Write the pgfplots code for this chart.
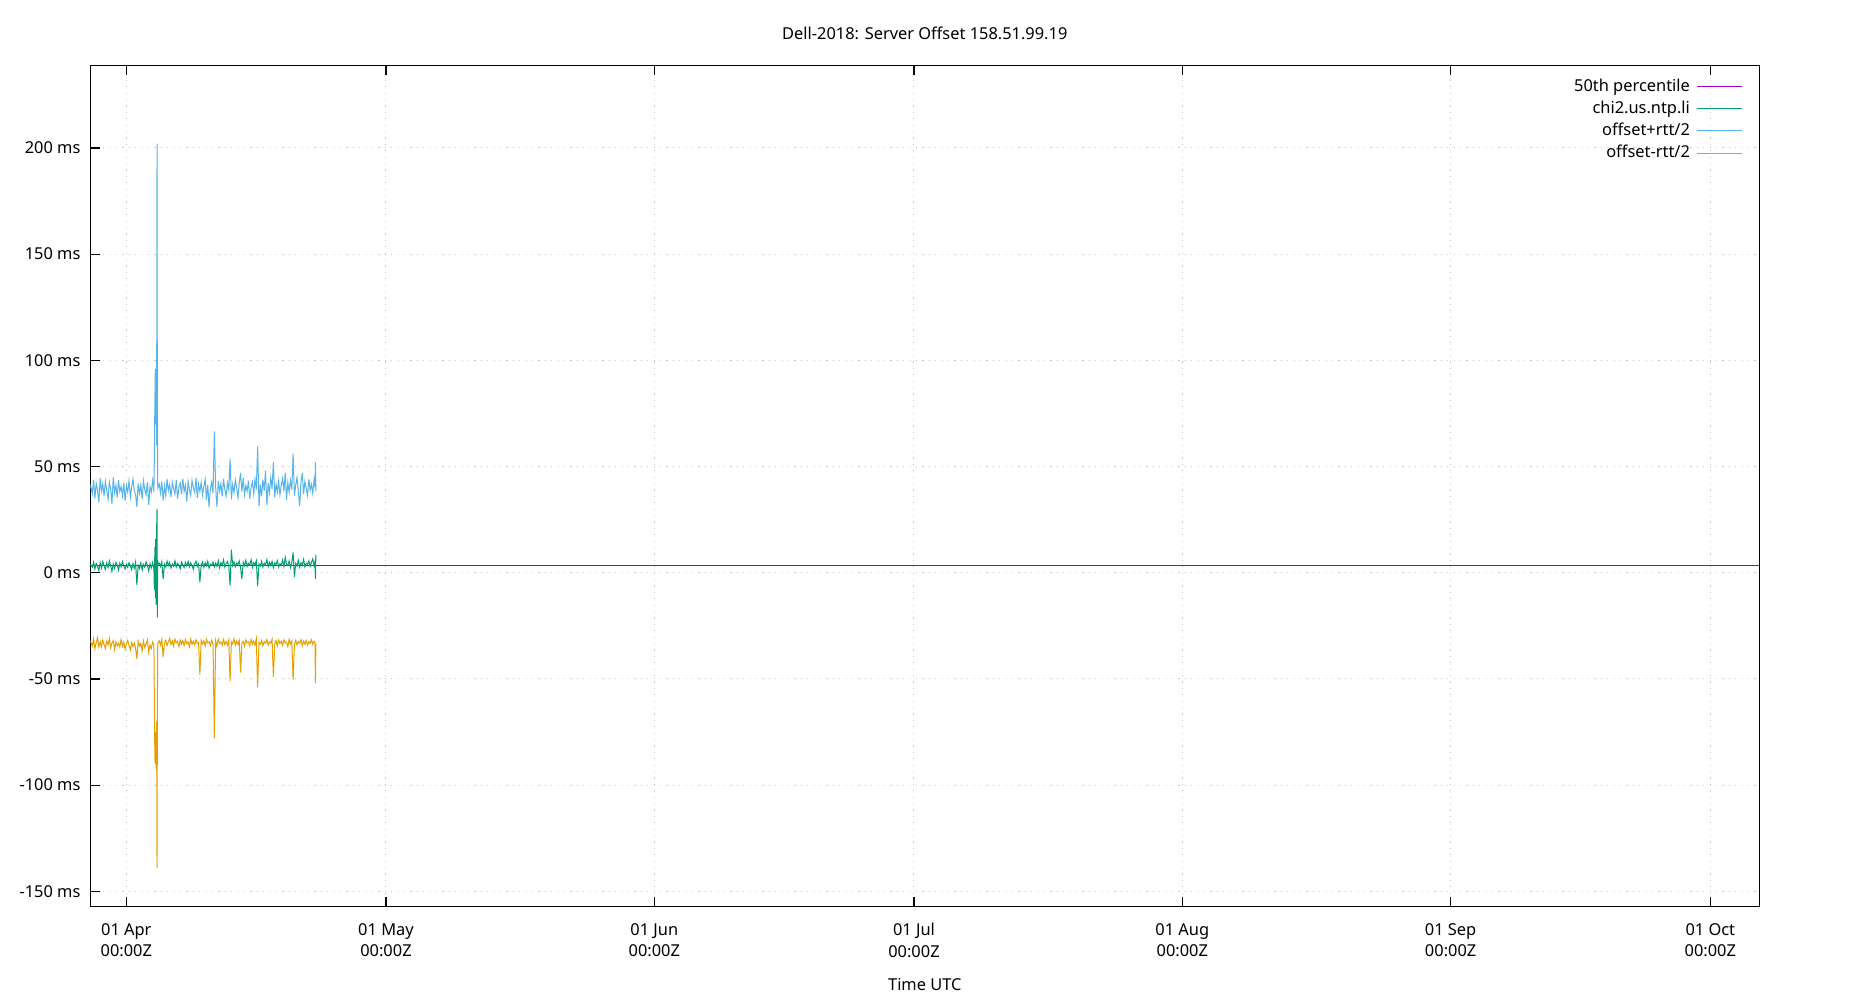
\documentclass[border=0pt]{standalone}
\usepackage{fontspec}
\setmainfont{Noto Sans}
\usepackage{pgfplots}
\usepackage{pgfplotstable}
\pgfplotsset{compat=1.18}

\definecolor{gpPurple}{HTML}{9400D3}
\definecolor{gpGreen}{HTML}{009E73}
\definecolor{gpBlue}{HTML}{56B4E9}
\definecolor{gpOrange}{HTML}{E69F00}

% x = days since 01 Apr 00:00Z, g = offset, b = offset+rtt/2, o = offset-rtt/2 (ms)
\pgfplotstableread{
x      g     b      o
-4.16  4.1  41.5  -32.0
-3.93  2.6  37.2  -34.5
-3.78  5.0  43.8  -31.2
-3.63  1.8  35.0  -35.8
-3.48  4.4  42.1  -33.0
-3.33  3.0  39.0  -30.6
-3.17  0.9  33.1  -35.1
-3.02  4.8  44.5  -32.4
-2.87  2.2  38.4  -34.9
-2.72  5.3  41.9  -31.7
-2.57  3.1  36.0  -33.8
-2.42  1.5  43.0  -35.6
-2.26  4.6  38.8  -32.2
-2.11  2.4  34.6  -34.0
-1.96  5.6  42.7  -31.0
-1.81  3.3  39.5  -35.3
-1.66  0.6  32.4  -33.1
-1.51  4.2  44.9  -31.9
-1.35  2.0  37.6  -36.2
-1.20  4.9  41.2  -32.6
-1.05  3.6  35.4  -34.4
-0.90  1.2  43.6  -33.3
-0.75  4.5  38.1  -35.0
-0.60  2.7  40.6  -31.5
-0.44  5.2  36.3  -34.7
-0.29  3.0  42.4  -32.8
-0.14  1.7  33.8  -35.9
0.01   4.0  41.0  -33.5
0.16   2.5  37.9  -31.8
0.31   4.7  43.2  -34.2
0.47   3.2  35.7  -36.4
0.62   1.4  40.2  -32.9
0.77   4.3  44.1  -34.8
0.92   2.1  38.6  -33.0
1.07   5.0  36.8  -35.5
1.22  -5.7  31.0  -40.6
1.37   3.5  42.0  -32.3
1.53   2.0  37.3  -34.6
1.68   4.6  41.4  -33.4
1.83   1.3  34.5  -36.8
1.98   3.9  43.3  -32.1
2.13   2.6  39.1  -35.2
2.28   5.1  36.5  -33.6
2.44   3.4  42.8  -31.6
2.59   0.8  32.0  -37.5
2.74   4.2  40.5  -34.1
2.89   2.3  38.0  -35.7
3.04   4.8  43.5  -32.7
3.19   2.0  38.0  -34.0
3.24  -8.0  55.0  -60.0
3.30  12.0  80.0  -88.0
3.35 -12.0  96.0  -90.0
3.40  16.0  70.0  -75.0
3.45 -15.0  96.0  -92.0
3.50  20.0  60.0  -70.0
3.55  30.0 202.0 -139.0
3.58 -21.0  90.0  -80.0
3.62   6.0  42.0  -36.0
3.65   3.8  40.0  -33.0
3.80   4.5  41.8  -32.0
3.95   2.9  37.5  -34.1
4.10   5.2  43.0  -31.4
4.26  -3.0  34.0  -39.6
4.41   4.0  40.9  -33.2
4.56   2.6  36.2  -31.8
4.71   5.4  44.0  -34.3
4.86   3.3  38.7  -32.5
5.01   4.8  41.5  -30.9
5.17   2.2  35.6  -33.9
5.32   4.1  42.6  -32.1
5.47   3.0  39.4  -34.6
5.62   5.6  37.1  -31.3
5.77   2.7  43.7  -33.0
5.92   4.4  34.8  -32.4
6.08   3.5  40.3  -34.8
6.23   1.9  42.2  -31.7
6.38   5.0  36.9  -33.6
6.53   3.8  44.3  -32.0
6.68   2.4  38.2  -34.2
6.83   4.9  41.1  -31.5
6.99   3.1  33.5  -33.4
7.14   5.3  42.9  -32.6
7.29   2.8  39.0  -34.9
7.44   4.6  36.4  -31.2
7.59   3.4  43.4  -33.7
7.74   1.6  40.0  -32.3
7.90   4.2  37.8  -34.0
8.05   5.5  44.6  -31.6
8.20   2.9  35.2  -33.3
8.35   4.3  41.7  -32.8
8.50  -4.5  38.3  -48.0
8.65   3.7  42.5  -31.9
8.81   5.1  36.6  -33.5
8.96   2.5  40.8  -32.2
9.11   4.7  43.9  -34.4
9.26   3.2  34.3  -31.4
9.41   5.4  41.3  -33.1
9.56   2.1  30.8  -32.5
9.72   4.0  39.7  -34.3
9.87   3.6  42.8  -31.8
10.02  5.0  37.4  -33.6
10.17  2.7  66.5  -78.0
10.32  4.5  40.6  -32.0
10.47  3.0  31.0  -34.5
10.63  5.7  43.1  -31.3
10.78  2.3  38.5  -33.2
10.93  4.8  41.9  -32.7
11.08  3.5  35.9  -34.1
11.23  6.0  44.2  -31.5
11.38  2.6  39.2  -33.8
11.53  4.2  36.1  -32.4
11.69  5.3  42.3  -34.0
11.84  3.1  38.9  -31.7
11.99 -6.0  53.7  -51.0
12.14 10.8  34.6  -32.6
12.29  3.4  41.6  -33.5
12.44  5.2  37.7  -31.2
12.60  2.8  43.6  -34.2
12.75  4.6  39.8  -32.1
12.90  3.9  35.3  -33.9
13.05  5.5  42.0  -31.9
13.20  2.4  47.0  -47.0
13.35 -3.0  38.1  -33.4
13.51  4.9  44.5  -32.3
13.66  3.3  36.8  -34.6
13.81  5.8  41.0  -31.6
13.96  2.9  38.4  -33.0
14.11  4.4  43.3  -32.5
14.26  3.6  34.9  -34.4
14.42  6.1  40.4  -31.4
14.57  2.5  42.7  -33.7
14.72  4.7  37.2  -32.2
14.87  3.8  44.0  -34.1
15.02  5.6  39.3  -31.1
15.17 -6.3  59.5  -54.0
15.33  4.1  31.5  -32.8
15.48  3.2  41.4  -33.6
15.63  5.4  36.0  -31.9
15.78  2.6  43.8  -34.3
15.93  4.5  38.6  -32.4
16.08  3.7  48.0  -33.3
16.24  6.2  31.8  -31.5
16.39  2.8  42.1  -34.0
16.54  4.9  37.6  -32.6
16.69  3.4  44.7  -33.1
16.84  5.3  39.5  -31.3
16.99  2.3  52.0  -49.0
17.15  4.6  35.5  -33.8
17.30  3.9  41.8  -32.0
17.45  5.7  38.0  -34.5
17.60  2.7  43.2  -31.7
17.75  4.3  36.7  -33.4
17.90  3.5  40.9  -32.3
18.06  6.0  44.4  -34.2
18.21  2.9  38.3  -31.6
18.36  7.2  47.0  -33.0
18.51  4.0  34.2  -32.7
18.66  3.3  42.4  -34.8
18.81  5.5  37.9  -31.4
18.96  2.5  43.5  -33.5
19.12  4.8  39.1  -32.1
19.27  9.6  56.0  -50.5
19.42 -2.0  36.3  -33.9
19.57  4.4  41.2  -31.8
19.72  3.1  44.8  -34.0
19.87  5.9  38.2  -32.5
20.03  2.6  31.5  -33.2
20.18  4.7  42.6  -31.5
20.33  3.6  47.0  -34.4
20.48  6.3  37.0  -32.2
20.63  2.8  43.0  -33.7
20.78  4.5  39.6  -31.9
20.94  3.9  36.4  -34.1
21.09  5.6  44.1  -32.4
21.24  3.0  38.8  -33.3
21.39  4.9  41.5  -31.6
21.54  6.5  37.4  -33.8
21.69  3.4  43.7  -32.3
21.80  5.2  40.2  -33.0
21.85 -3.0  52.0  -52.0
21.90  8.5  38.5  -33.5
}\offsetdata

\begin{document}
\fontsize{8.2bp}{10.85bp}\selectfont
\begin{tikzpicture}
\path[use as bounding box] (-45.15bp,-46.65bp) rectangle (879.85bp,453.35bp);
\begin{axis}[
    at={(0,0)}, anchor=south west,
    scale only axis,
    width=834.5bp, height=420.7bp,
    xmin=-4.16, xmax=188.66,
    ymin=-157.25, ymax=238.9,
    axis line style={line width=0.7bp},
    tick style={line width=0.6bp, black},
    major tick length=5bp,
    tick align=inside,
    xtick pos=both, ytick pos=left,
    xtick={0,30,61,91,122,153,183},
    xticklabels={01 Apr\\00:00Z, 01 May\\00:00Z, 01 Jun\\00:00Z, 01 Jul\\00:00Z, 01 Aug\\00:00Z, 01 Sep\\00:00Z, 01 Oct\\00:00Z},
    xticklabel style={align=center, yshift=-5.4bp},
    ytick={-150,-100,-50,0,50,100,150,200},
    yticklabels={-150 ms, -100 ms, -50 ms, 0 ms, 50 ms, 100 ms, 150 ms, 200 ms},
    yticklabel style={xshift=-2bp},
    grid=major,
    major grid style={gray!45, line width=0.5bp, dash pattern=on 0.6bp off 2.6bp},
    xlabel={Time UTC},
    xlabel style={at={(axis description cs:0.5,0)}, anchor=center, yshift=-39bp},
    title={Dell-2018: Server Offset 158.51.99.19},
    every axis title shift=0pt,
    title style={at={(axis description cs:0.5,1)}, anchor=center, yshift=16.2bp},
    legend cell align=right,
    legend plot pos=right,
    legend style={draw=none, fill=none, inner sep=0pt,
        at={(axis description cs:1,1)}, anchor=north east,
        xshift=-8.1bp, yshift=-5.3bp,
        row sep=0.8bp, column sep=2.4bp,
        nodes={inner sep=1bp, text height=6.5bp, text depth=1.8bp}},
    legend image code/.code={\draw[#1] (0bp,0bp) -- (22.5bp,0bp);},
    every axis plot/.append style={line width=0.5bp},
]
\addplot[gpPurple] coordinates {(-4.16,3.4) (188.66,3.4)};
\addlegendentry{50th percentile}
\addplot[gpGreen] table[x=x, y=g] {\offsetdata};
\addlegendentry{chi2.us.ntp.li}
\addplot[gpBlue] table[x=x, y=b] {\offsetdata};
\addlegendentry{offset+rtt/2}
\addplot[gpOrange] table[x=x, y=o] {\offsetdata};
\addlegendentry{offset-rtt/2}
\end{axis}
\end{tikzpicture}
\end{document}
